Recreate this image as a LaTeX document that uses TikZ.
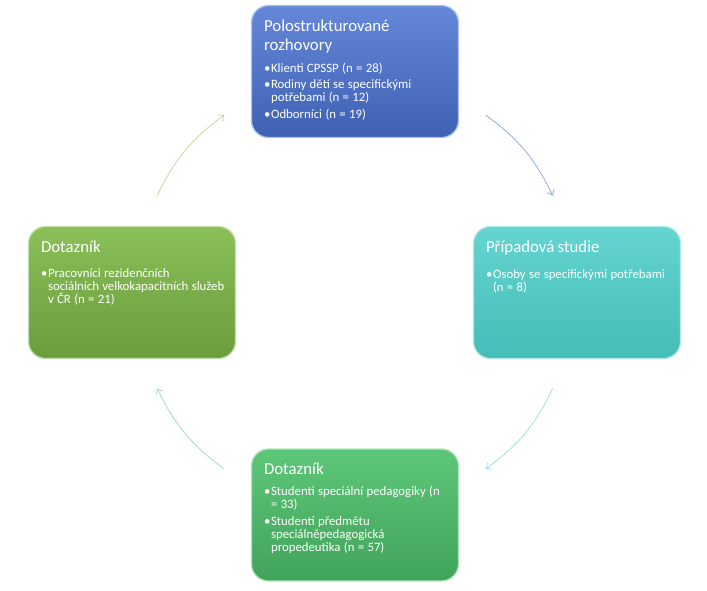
\documentclass[tikz,border=0pt]{standalone}
\usepackage{fontspec}
\setmainfont{Carlito}
\usetikzlibrary{positioning, arrows.meta}
\definecolor{modra}{HTML}{4A72D2}
\definecolor{tyrkys}{HTML}{4ACDC8}
\definecolor{zelena}{HTML}{7DB846}
\definecolor{zelena2}{HTML}{4CC06A}
\tikzset{
x=1pt, y=1pt, % pixel like units
blok/.style={rounded corners=17pt, minimum width=207pt, minimum height=132pt, line width=1.3pt}, % the coloured boxes
obsah/.style={text=white, text width=200pt, align=left, anchor=north west, inner sep=0pt}, % text inside a box
tok/.style={-{Straight Barb[length=4.5pt, width=8pt]}, line width=0.7pt}, % the curved arrows
}
% title of a box, optional gap below it
\newcommand{\nadpis}[2][9pt]{{\fontsize{16.8}{19}\selectfont #2\par}\vspace{#1}}
% one bullet, lines broken by hand
\newcommand{\bodik}[1]{{\fontsize{12.8}{13}\selectfont\hangindent=7pt\hangafter=1\makebox[7pt][l]{\textbullet}#1\par}\vspace{3.7pt}}
\begin{document}
\begin{tikzpicture}
       \useasboundingbox (0,0) rectangle (707,-590);
       \coordinate (stred) at (355,-292);

       \node[blok, top color=modra!85!white, bottom color=modra!85!black, draw=modra!45!white] (rozhovory) at (355,-71.5) {};
       \node[blok, top color=tyrkys!85!white, bottom color=tyrkys!92!black, draw=tyrkys!45!white] (studie) at (577,-292.5) {};
       \node[blok, top color=zelena2!90!white, bottom color=zelena2!85!black, draw=zelena2!45!white] (dotaznik2) at (355,-515) {};
       \node[blok, top color=zelena!90!white, bottom color=zelena!85!black, draw=zelena!45!white] (dotaznik1) at (132,-292.5) {};

       \node[obsah] (trozhovory) at ([shift={(13,-14.5)}]rozhovory.north west) {%
         \nadpis{Polostrukturované\\rozhovory}
         \bodik{Klienti CPSSP (n = 28)}
         \bodik{Rodiny dětí se specifickými\newline potřebami (n = 12)}
         \bodik{Odborníci (n = 19)}};
       \node[obsah] (tstudie) at ([shift={(13,-14.5)}]studie.north west) {%
         \nadpis[13pt]{Případová studie}
         \bodik{Osoby se specifickými potřebami\newline (n = 8)}};
       \node[obsah] (tdotaznik2) at ([shift={(13,-14.5)}]dotaznik2.north west) {%
         \nadpis[8pt]{Dotazník}
         \bodik{Studenti speciální pedagogiky (n\newline = 33)}
         \bodik{Studenti předmětu\newline speciálněpedagogická\newline propedeutika (n = 57)}};
       \node[obsah] (tdotaznik1) at ([shift={(13,-14.5)}]dotaznik1.north west) {%
         \nadpis[12pt]{Dotazník}
         \bodik{Pracovníci rezidenčních\newline sociálních velkokapacitních služeb\newline v ČR (n = 21)}};

       % arrow ends on a circle round the middle
       \coordinate (a1) at ([shift={(53.5:220)}]stred);
       \coordinate (a2) at ([shift={(26:220)}]stred);
       \coordinate (b1) at ([shift={(-26:220)}]stred);
       \coordinate (b2) at ([shift={(-53.5:220)}]stred);
       \coordinate (c1) at ([shift={(-126.5:220)}]stred);
       \coordinate (c2) at ([shift={(-154:220)}]stred);
       \coordinate (d1) at ([shift={(154:220)}]stred);
       \coordinate (d2) at ([shift={(126.5:220)}]stred);

       \draw[tok, draw=modra!65!white] (a1) to[bend left=14] (a2);
       \draw[tok, draw=tyrkys!60!white] (b1) to[bend left=14] (b2);
       \draw[tok, draw=zelena2!55!white] (c1) to[bend left=14] (c2);
       \draw[tok, draw=zelena!55!white] (d1) to[bend left=14] (d2);
    \end{tikzpicture}
\end{document}
